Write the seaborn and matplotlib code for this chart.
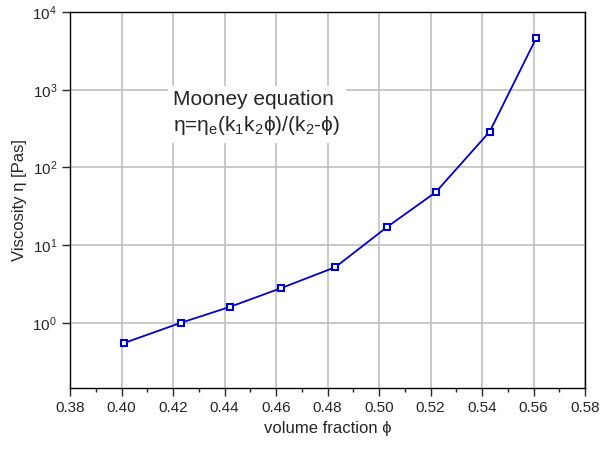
import matplotlib
matplotlib.use("Agg")
import matplotlib.pyplot as plt
import seaborn as sns
import numpy as np
from matplotlib.ticker import LogLocator, MultipleLocator, NullFormatter

phi = [0.401, 0.423, 0.442, 0.462, 0.483, 0.503, 0.522, 0.543, 0.561]
visc = [0.55, 1.0, 1.6, 2.8, 5.2, 17, 48, 290, 4600]

sns.set_style("white")
plt.rcParams['font.family'] = ['Liberation Sans', 'DejaVu Sans']
fig, ax = plt.subplots(figsize=(6, 4.5), dpi=100)
fig.subplots_adjust(left=0.117, right=0.975, top=0.973, bottom=0.138)
sns.lineplot(x=phi, y=visc, ax=ax, color='#0000cc', lw=1.3, marker='s', ms=4.5,
             mfc='white', mec='#0000cc', mew=1.5)
ax.set_yscale('log')
ax.set_xlim(0.38, 0.58)
ax.set_ylim(0.145, 1e4)
ax.xaxis.set_major_locator(MultipleLocator(0.02))
ax.xaxis.set_minor_locator(MultipleLocator(0.01))
ax.xaxis.set_major_formatter(matplotlib.ticker.FormatStrFormatter('%.2f'))
ax.yaxis.set_major_locator(LogLocator(base=10, numticks=10))
ax.yaxis.set_minor_locator(matplotlib.ticker.NullLocator())
ax.yaxis.set_minor_formatter(NullFormatter())
ax.grid(True, which='major', color='#c0c0c0', lw=1.2)
ax.set_axisbelow(True)
for s in ax.spines.values():
    s.set_color('black'); s.set_linewidth(1.0)
ax.tick_params(which='major', direction='out', length=6, width=1, labelsize=11, bottom=True, left=True)
ax.tick_params(which='minor', direction='out', length=3, width=1, bottom=True, left=True)
ax.set_xlabel('volume fraction ϕ', fontsize=12)
ax.set_ylabel('Viscosity η [Pas]', fontsize=12)
ax.text(0.2, 0.73, 'Mooney equation\nη=η$_\\mathregular{e}$(k$_\\mathregular{1}$k$_\\mathregular{2}$ϕ)/(k$_\\mathregular{2}$-ϕ)',
        transform=ax.transAxes, fontsize=15, va='center', ha='left', linespacing=1.3,
        bbox=dict(facecolor='white', edgecolor='none', pad=4))
fig.savefig('out.png', dpi=100)
